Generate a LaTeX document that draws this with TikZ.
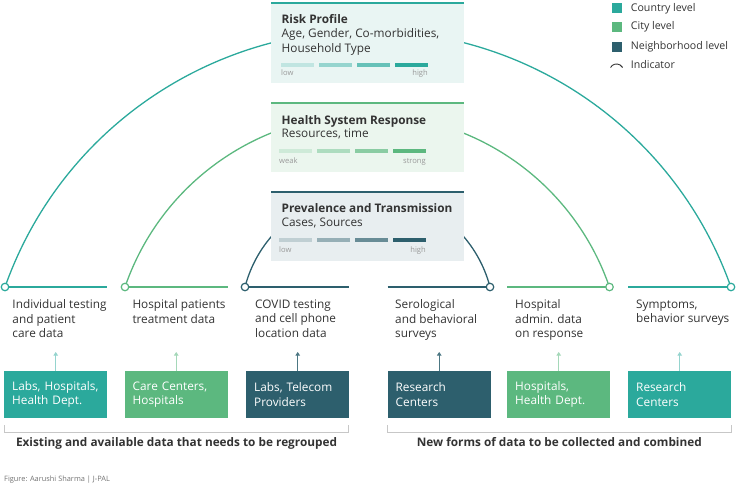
\documentclass[tikz,border=0pt]{standalone}
\usepackage{fontspec}
\setmainfont{Open Sans}
\usetikzlibrary{arrows.meta,positioning}
\definecolor{country}{HTML}{2BA99C}
\definecolor{city}{HTML}{5CB87F}
\definecolor{nbhd}{HTML}{2D5F6D}
\definecolor{countryfill}{HTML}{E9F5F3}
\definecolor{cityfill}{HTML}{EBF6EE}
\definecolor{nbhdfill}{HTML}{E8EEF0}
\definecolor{txt}{HTML}{333333}
\definecolor{faint}{HTML}{999999}

\begin{document}
\begin{tikzpicture}[x=1pt, y=-1pt,
    every node/.style={inner sep=0pt, text=txt, font=\fontsize{11.8}{14.6}\selectfont},
    indbox/.style={anchor=north west, minimum width=193pt},
    topline/.style={line width=2pt},
    indtitle/.style={anchor=base west, font=\fontsize{11.8}{14.6}\selectfont\bfseries},
    scalelabel/.style={anchor=base west, text=faint, font=\fontsize{7.6}{8}\selectfont},
    srcbox/.style={anchor=north west, minimum width=103pt, minimum height=46.5pt, text width=87pt, inner xsep=8pt, align=left, text=white},
    srclabel/.style={anchor=north west, align=left},
    dot/.style={circle, draw=#1, fill=white, line width=1.2pt, minimum size=7.5pt},
    arcline/.style={line width=1.3pt},
    upline/.style={-{Triangle[length=3.5pt, width=4.5pt]}, line width=0.8pt},
    bracket/.style={draw=black!22, line width=0.8pt},
    groupcap/.style={anchor=base, font=\fontsize{11.8}{14.6}\selectfont\bfseries},
    legtext/.style={anchor=west, font=\fontsize{10.6}{12}\selectfont}]

  \useasboundingbox (0,0) rectangle (736,487);

  % ends of the indicator arcs
  \coordinate (c1) at (5,287);
  \coordinate (c2) at (125,287);
  \coordinate (c3) at (245,287);
  \coordinate (c4) at (490,287);
  \coordinate (c5) at (609.5,287);
  \coordinate (c6) at (731,287);

  \draw[arcline, country] (c1) arc[start angle=160.48, end angle=19.52, radius=385.1pt];
  \draw[arcline, city] (c2) arc[start angle=160.98, end angle=19.02, radius=256.2pt];
  \draw[arcline, nbhd] (c3) arc[start angle=165.4, end angle=14.6, radius=126.6pt];

  % indicator boxes
  \node[indbox, fill=countryfill, minimum height=80pt] (rp) at (271,3) {};
  \draw[topline, country] (rp.north west) -- (rp.north east);
  \node[indtitle] (rpt) at (281.5,23.3) {Risk Profile};
  \node[srclabel] (rps) at (281.5,28.6) {Age, Gender, Co-morbidities,\\Household Type};
  \fill[country!30] (281,63.3) rectangle (314,67.3);
  \fill[country!50] (319,63.3) rectangle (352,67.3);
  \fill[country!72] (357,63.3) rectangle (390,67.3);
  \fill[country] (395,63.3) rectangle (428,67.3);
  \node[scalelabel] (rplo) at (281,76) {low};
  \node[scalelabel, anchor=base east] (rphi) at (428,76) {high};

  \node[indbox, fill=cityfill, minimum height=68.5pt] (hs) at (271,103.3) {};
  \draw[topline, city] (hs.north west) -- (hs.north east);
  \node[indtitle] (hst) at (281.5,124) {Health System Response};
  \node[anchor=base west] (hss) at (281.5,137.5) {Resources, time};
  \fill[city!30] (279,149.3) rectangle (312,153.3);
  \fill[city!50] (317,149.3) rectangle (350,153.3);
  \fill[city!72] (355,149.3) rectangle (388,153.3);
  \fill[city] (393,149.3) rectangle (426,153.3);
  \node[scalelabel] (hslo) at (279,163.3) {weak};
  \node[scalelabel, anchor=base east] (hshi) at (426,163.3) {strong};

  \node[indbox, fill=nbhdfill, minimum height=68.5pt] (pt) at (271,192.3) {};
  \draw[topline, nbhd] (pt.north west) -- (pt.north east);
  \node[indtitle] (ptt) at (281.5,212.3) {Prevalence and Transmission};
  \node[anchor=base west] (pts) at (281.5,226.7) {Cases, Sources};
  \fill[nbhd!30] (279,237.7) rectangle (312,241.7);
  \fill[nbhd!50] (317,237.7) rectangle (350,241.7);
  \fill[nbhd!72] (355,237.7) rectangle (388,241.7);
  \fill[nbhd] (393,237.7) rectangle (426,241.7);
  \node[scalelabel] (ptlo) at (279,252.3) {low};
  \node[scalelabel, anchor=base east] (pthi) at (426,252.3) {high};

  % data lines
  \coordinate (e1) at (107,287);
  \coordinate (e2) at (227.5,287);
  \coordinate (e3) at (349,287);
  \coordinate (e4) at (387.5,287);
  \coordinate (e5) at (507,287);
  \coordinate (e6) at (628,287);
  \draw[topline, country] (c1) -- (e1);
  \draw[topline, city] (c2) -- (e2);
  \draw[topline, nbhd] (c3) -- (e3);
  \draw[topline, nbhd] (e4) -- (c4);
  \draw[topline, city] (e5) -- (c5);
  \draw[topline, country] (e6) -- (c6);
  \node[dot=country] (d1) at (c1) {};
  \node[dot=city] (d2) at (c2) {};
  \node[dot=nbhd] (d3) at (c3) {};
  \node[dot=nbhd] (d4) at (c4) {};
  \node[dot=city] (d5) at (c5) {};
  \node[dot=country] (d6) at (c6) {};

  \node[srclabel] (l1) at (12.3,299.3) {Individual testing\\and patient\\care data};
  \node[srclabel] (l2) at (132.3,299.3) {Hospital patients\\treatment data};
  \node[srclabel] (l3) at (255,299.3) {COVID testing\\and cell phone\\location data};
  \node[srclabel] (l4) at (395,299.3) {Serological\\and behavioral\\surveys};
  \node[srclabel] (l5) at (515,299.3) {Hospital\\admin. data\\on response};
  \node[srclabel] (l6) at (636,299.3) {Symptoms,\\behavior surveys};

  % sources
  \node[srcbox, fill=country] (s1) at (4,371) {Labs, Hospitals,\\Health Dept.};
  \node[srcbox, fill=city] (s2) at (124.5,371) {Care Centers,\\Hospitals};
  \node[srcbox, fill=nbhd] (s3) at (246,371) {Labs, Telecom\\Providers};
  \node[srcbox, fill=nbhd] (s4) at (387.5,371) {Research\\Centers};
  \node[srcbox, fill=city] (s5) at (507,371) {Hospitals,\\Health Dept.};
  \node[srcbox, fill=country] (s6) at (628,371) {Research\\Centers};

  \draw[upline, country!50] (s1.north) -- ++(0,-19);
  \draw[upline, city!55] (s2.north) -- ++(0,-19);
  \draw[upline, nbhd!85] (s3.north) -- ++(0,-19);
  \draw[upline, nbhd!85] (s4.north) -- ++(0,-19);
  \draw[upline, city!55] (s5.north) -- ++(0,-19);
  \draw[upline, country!50] (s6.north) -- ++(0,-19);

  % groups
  \coordinate (g1) at (4.5,425);
  \coordinate (g2) at (348.5,425);
  \coordinate (g3) at (387.5,425);
  \coordinate (g4) at (731,425);
  \draw[bracket] (g1) -- ++(0,7.5) -| (g2);
  \draw[bracket] (g3) -- ++(0,7.5) -| (g4);
  \node[groupcap] (cap1) at (176.5,446.5) {Existing and available data that needs to be regrouped};
  \node[groupcap] (cap2) at (559.3,446.5) {New forms of data to be collected and combined};

  \node[anchor=base west, text=black!55, font=\fontsize{7.4}{8}\selectfont] (credit) at (4,481) {Figure: Aarushi Sharma | J-PAL};

  % legend
  \node[fill=country, minimum size=10pt] (lg1) at (616.7,8.3) {};
  \node[fill=city, minimum size=10pt] (lg2) at (616.7,26.7) {};
  \node[fill=nbhd, minimum size=10pt] (lg3) at (616.7,46.7) {};
  \coordinate (lg4) at (610.5,67.5);
  \draw[txt, line width=0.9pt] (lg4) arc[start angle=150, end angle=30, radius=7pt];
  \node[legtext] (lt1) at (630.7,8.3) {Country level};
  \node[legtext] (lt2) at (630.7,27) {City level};
  \node[legtext] (lt3) at (630.7,46.5) {Neighborhood level};
  \node[legtext] (lt4) at (630.7,65) {Indicator};
\end{tikzpicture}
\end{document}
